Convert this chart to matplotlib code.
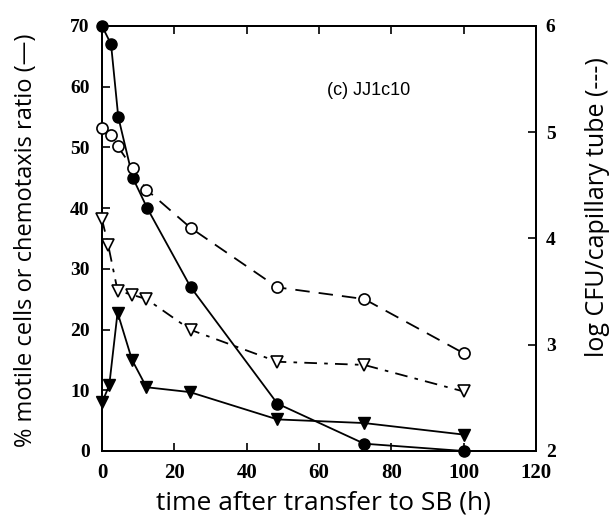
import numpy as np
import matplotlib
matplotlib.use("Agg")
import matplotlib.pyplot as plt

# datos
t_motil = [0, 2.5, 4.5, 8.5, 12.5, 24.5, 48.5, 72.5, 100]
motil = [70, 67, 55, 45, 40, 27, 7.8, 1.2, 0]

t_quimio = [0, 2, 4.3, 8.3, 12.3, 24.3, 48.5, 72.5, 100]
quimio = [8, 10.8, 22.8, 15, 10.5, 9.7, 5.2, 4.6, 2.7]

t_cfu_o = [0, 2.5, 4.3, 8.5, 12.3, 24.5, 48.5, 72.5, 100]
cfu_o = [5.04, 4.97, 4.87, 4.66, 4.46, 4.10, 3.54, 3.43, 2.92]

t_cfu_v = [0, 1.7, 4.3, 8.3, 12.3, 24.5, 48.5, 72.5, 100]
cfu_v = [4.18, 3.94, 3.51, 3.47, 3.43, 3.14, 2.84, 2.81, 2.56]

x_ticks = [0, 20, 40, 60, 80, 100, 120]
y_ticks = [0, 10, 20, 30, 40, 50, 60, 70]
y2_ticks = [2, 3, 4, 5, 6]

fig = plt.figure(figsize=(6.13, 5.23), dpi=100)
ax = fig.add_axes([0.1664, 0.1377, 0.708, 0.8126])
ax2 = ax.twinx()

ax.plot(t_motil, motil, '-', color='black', lw=1.3, marker='o', ms=8,
        mfc='black', mec='black', clip_on=False, zorder=5)
ax.plot(t_quimio, quimio, '-', color='black', lw=1.3, marker='v', ms=9,
        mfc='black', mec='black', clip_on=False, zorder=5)
ax2.plot(t_cfu_o, cfu_o, color='black', lw=1.3, dashes=(8, 5), marker='o', ms=8,
         mfc='white', mec='black', mew=1.2, clip_on=False, zorder=5)
ax2.plot(t_cfu_v, cfu_v, color='black', lw=1.3, dashes=(7, 4, 2, 4), marker='v', ms=9,
         mfc='white', mec='black', mew=1.2, clip_on=False, zorder=5)

ax.set_xlim(0, 120)
ax.set_ylim(0, 70)
ax2.set_ylim(2, 6)
ax.set_xticks(x_ticks)
ax.set_yticks(y_ticks)
ax2.set_yticks(y2_ticks)

serif = 'Liberation Serif'
for a in (ax, ax2):
    a.tick_params(direction='in', length=6, width=1.2, top=True)
    for s in a.spines.values():
        s.set_linewidth(1.4)
ax.tick_params(axis='x', pad=9)
ax.tick_params(axis='y', pad=9)
ax2.tick_params(axis='y', pad=7)
for lab in ax.get_xticklabels():
    lab.set_fontfamily(serif)
    lab.set_fontsize(15)
    lab.set_fontweight('bold')
for lab in ax.get_yticklabels() + ax2.get_yticklabels():
    lab.set_fontfamily(serif)
    lab.set_fontsize(14)
    lab.set_fontweight('bold')

sans = 'Open Sans'
ax.set_xlabel("time after transfer to SB (h)", fontsize=19, family=sans)
ax.xaxis.set_label_coords(0.51, -0.092)
ax.set_ylabel("% motile cells or chemotaxis ratio (—)", fontsize=17, family=sans)
ax.yaxis.set_label_coords(-0.147, 0.496)
ax2.set_ylabel("log CFU/capillary tube (---)", fontsize=18, family=sans)
ax2.yaxis.set_label_coords(1.113, 0.574)

ax.text(0.615, 0.849, "(c) JJ1c10", transform=ax.transAxes, ha='center', va='center',
        fontsize=13, family='Liberation Sans')

fig.savefig("out.png", dpi=100)
